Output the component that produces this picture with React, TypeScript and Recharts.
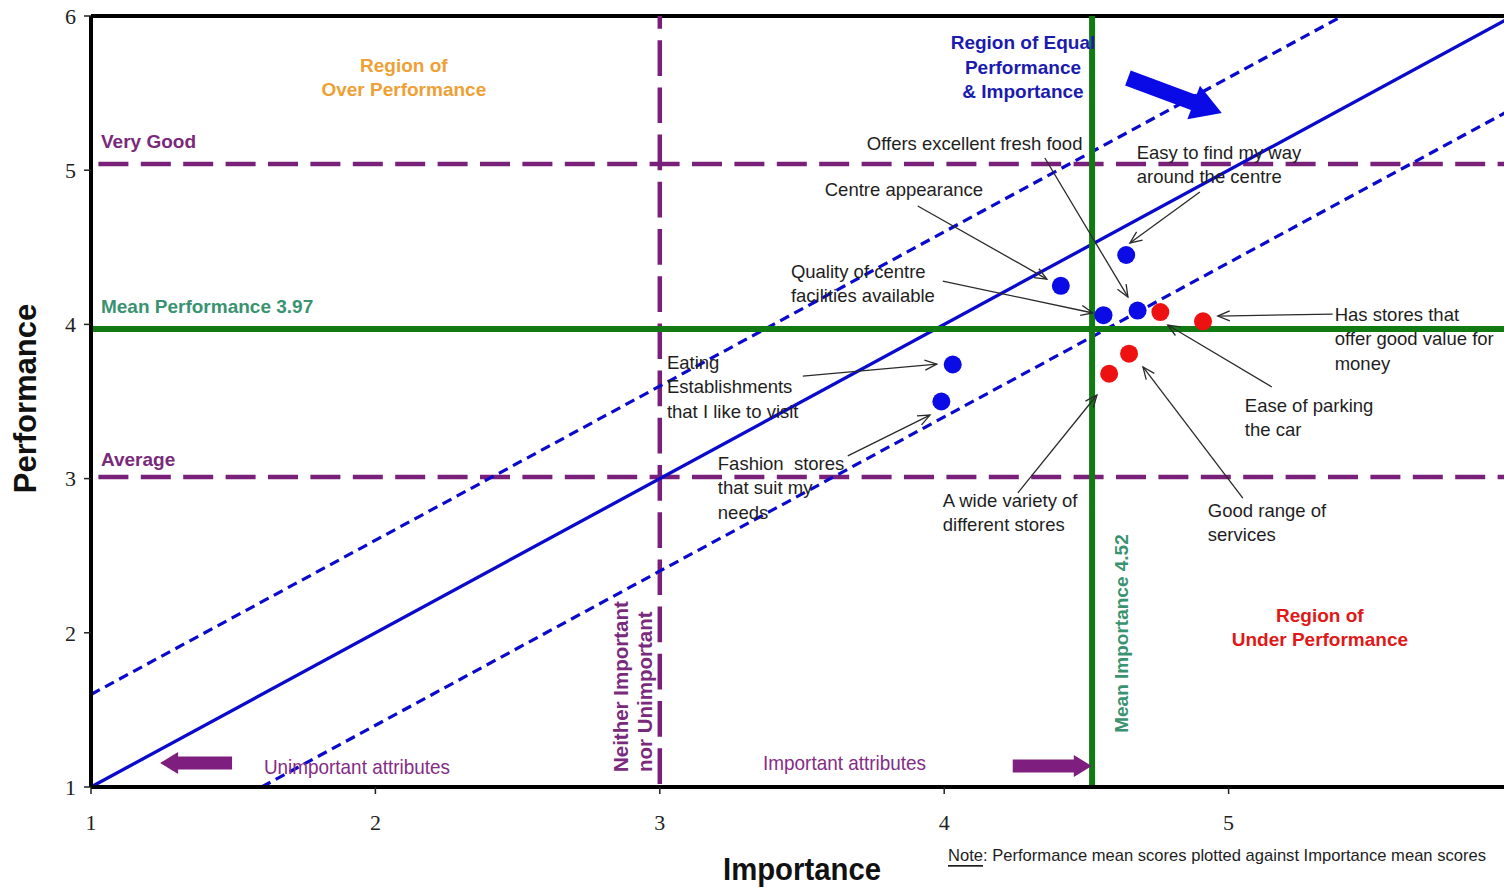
import React from 'react';
import { ScatterChart, Scatter, XAxis, YAxis, ReferenceLine, ReferenceDot, Label } from 'recharts';

// ---------- data ----------
const xTicks = [1, 2, 3, 4, 5];
const yTicks = [1, 2, 3, 4, 5, 6];

const blueNames = [
  'Centre appearance',
  'Easy to find my way around the centre',
  'Quality of centre facilities available',
  'Offers excellent fresh food',
  'Eating Establishments that I like to visit',
  'Fashion stores that suit my needs',
];
const blueImportance = [4.41, 4.64, 4.56, 4.68, 4.03, 3.99];
const bluePerformance = [4.25, 4.45, 4.06, 4.09, 3.74, 3.5];

const redNames = [
  'Ease of parking the car',
  'Has stores that offer good value for money',
  'Good range of services',
  'A wide variety of different stores',
];
const redImportance = [4.76, 4.91, 4.65, 4.58];
const redPerformance = [4.08, 4.02, 3.81, 3.68];

const meanImportance = 4.52;
const meanPerformance = 3.97;
const veryGoodLevel = 5.04;
const averageLevel = 3.01;
const neutralImportance = 3;
const bandOffset = 0.6;

// ---------- annotations (data coordinates) ----------
type Block = {
  x: number; y: number; lines: string[]; color?: string; anchor?: 'start' | 'middle' | 'end';
  bold?: boolean; size?: number; lh?: number; rotate?: boolean; fit?: number[];
};

const calloutTexts: Block[] = [
  { x: 3.728, y: 5.17, lines: ['Offers excellent fresh food'] },
  { x: 3.58, y: 4.872, lines: ['Centre appearance'] },
  { x: 3.461, y: 4.346, lines: ['Quality of centre', 'facilities available'] },
  { x: 4.677, y: 5.118, lines: ['Easy to find my way', 'around the centre'] },
  { x: 5.373, y: 4.067, lines: ['Has stores that', 'offer good value for', 'money'] },
  { x: 5.057, y: 3.477, lines: ['Ease of parking', 'the car'] },
  { x: 3.025, y: 3.756, lines: ['Eating', 'Establishments', 'that I like to visit'] },
  { x: 3.204, y: 3.101, lines: ['Fashion  stores', 'that suit my', 'needs'] },
  { x: 3.995, y: 2.861, lines: ['A wide variety of', 'different stores'] },
  { x: 4.927, y: 2.796, lines: ['Good range of', 'services'] },
];

const PURPLE = '#78207A';
const PURPLE_TXT = '#7A2A7C';
const GREEN = '#127A12';
const GREEN_TXT = '#3A9370';
const BLUE = '#0A0ACC';

const regionTexts: Block[] = [
  { x: 2.1, y: 5.682, lines: ['Region of', 'Over Performance'], color: '#EFA035', anchor: 'middle', bold: true, size: 19, lh: 24 },
  { x: 4.277, y: 5.825, lines: ['Region of Equal', 'Performance', '& Importance'], color: '#1B1BB0', anchor: 'middle', bold: true, size: 19, lh: 24.5 },
  { x: 5.321, y: 2.115, lines: ['Region of', 'Under Performance'], color: '#E01818', anchor: 'middle', bold: true, size: 19, lh: 24 },
  { x: 1.035, y: 5.189, lines: ['Very Good'], color: PURPLE_TXT, bold: true, size: 19 },
  { x: 1.035, y: 4.119, lines: ['Mean Performance 3.97'], color: GREEN_TXT, bold: true, size: 19 },
  { x: 1.035, y: 3.127, lines: ['Average'], color: PURPLE_TXT, bold: true, size: 19 },
  { x: 4.625, y: 1.9955, lines: ['Mean Importance 4.52'], color: GREEN_TXT, bold: true, size: 19, anchor: 'middle', rotate: true },
  { x: 2.863, y: 1.097, lines: ['Neither Important', 'nor Unimportant'], color: PURPLE_TXT, bold: true, size: 20.5, lh: 24, rotate: true },
  { x: 1.608, y: 1.13, lines: ['Unimportant attributes'], color: '#852C86', size: 21, fit: [186] },
  { x: 3.363, y: 1.156, lines: ['Important attributes'], color: '#852C86', size: 21, fit: [163] },
];

const leaders = [
  { from: [3.907, 4.768], to: [4.361, 4.294] },
  { from: [4.354, 5.079], to: [4.646, 4.178] },
  { from: [4.899, 4.859], to: [4.653, 4.528] },
  { from: [3.995, 4.281], to: [4.523, 4.074] },
  { from: [5.366, 4.067], to: [4.962, 4.054] },
  { from: [5.152, 3.594], to: [4.786, 3.996] },
  { from: [5.05, 2.874], to: [4.699, 3.724] },
  { from: [4.259, 2.907], to: [4.537, 3.542] },
  { from: [3.503, 3.665], to: [3.974, 3.743] },
  { from: [3.661, 3.147], to: [3.95, 3.412] },
];

const blockArrows = [
  { from: [4.646, 5.598], to: [4.976, 5.371], color: '#0A0AE6', w: 8, h: 18, hl: 30 },
  { from: [1.496, 1.156], to: [1.243, 1.156], color: '#7E1F80', w: 6.5, h: 11, hl: 18 },
  { from: [4.241, 1.136], to: [4.519, 1.136], color: '#7E1F80', w: 6.5, h: 11, hl: 18 },
];

// ---------- helpers ----------
const SANS = '"Liberation Sans", Arial, sans-serif';
const SERIF = '"Liberation Serif", "Times New Roman", serif';

const blueData = blueNames.map((name, i) => ({ name, importance: blueImportance[i], performance: bluePerformance[i] }));
const redData = redNames.map((name, i) => ({ name, importance: redImportance[i], performance: redPerformance[i] }));

const renderBlock = (b: Block) => (p: any) => {
  const { cx, cy } = p;
  if (cx == null || cy == null) return <g />;
  const size = b.size ?? 18.5;
  const lh = b.lh ?? 24.5;
  return (
    <g>
      {b.lines.map((t, i) => {
        const tx = b.rotate ? cx + i * lh : cx;
        const ty = b.rotate ? cy : cy + i * lh;
        const fit = b.fit ? b.fit[i] : undefined;
        return (
          <text
            key={i}
            x={tx}
            y={ty}
            transform={b.rotate ? `rotate(-90 ${tx} ${ty})` : undefined}
            textAnchor={b.anchor ?? 'start'}
            dominantBaseline="central"
            fontFamily={SANS}
            fontSize={size}
            fontWeight={b.bold ? 'bold' : 'normal'}
            fill={b.color ?? '#1E1E1E'}
            textLength={fit}
            lengthAdjust={fit ? 'spacingAndGlyphs' : undefined}
            style={{ whiteSpace: 'pre' }}
          >
            {t}
          </text>
        );
      })}
    </g>
  );
};

const leaderShape = (p: any) => {
  const { x1, y1, x2, y2 } = p;
  if ([x1, y1, x2, y2].some((v) => v == null || isNaN(v))) return <g />;
  const ang = Math.atan2(y2 - y1, x2 - x1);
  const L = 13;
  const a = 0.4;
  const ax = x2 - L * Math.cos(ang - a);
  const ay = y2 - L * Math.sin(ang - a);
  const bx = x2 - L * Math.cos(ang + a);
  const by = y2 - L * Math.sin(ang + a);
  return (
    <g>
      <line x1={x1} y1={y1} x2={x2} y2={y2} stroke="#2A2A2A" strokeWidth={1.3} />
      <polyline points={`${ax},${ay} ${x2},${y2} ${bx},${by}`} fill="none" stroke="#2A2A2A" strokeWidth={1.3} />
    </g>
  );
};

const arrowShape = (color: string, w: number, h: number, hl: number) => (p: any) => {
  const { x1, y1, x2, y2 } = p;
  if ([x1, y1, x2, y2].some((v) => v == null || isNaN(v))) return <g />;
  const dx = x2 - x1;
  const dy = y2 - y1;
  const len = Math.hypot(dx, dy);
  const ux = dx / len;
  const uy = dy / len;
  const nx = -uy;
  const ny = ux;
  const bx = x2 - ux * hl;
  const by = y2 - uy * hl;
  const pts = [
    [x1 + nx * w, y1 + ny * w],
    [bx + nx * w, by + ny * w],
    [bx + nx * h, by + ny * h],
    [x2, y2],
    [bx - nx * h, by - ny * h],
    [bx - nx * w, by - ny * w],
    [x1 - nx * w, y1 - ny * w],
  ];
  return <polygon points={pts.map((q) => q.join(',')).join(' ')} fill={color} />;
};

const dotShape = (color: string) => (p: any) => {
  if (p.cx == null || p.cy == null) return <g />;
  return <circle cx={p.cx} cy={p.cy} r={9} fill={color} />;
};

const xAxisTitle = (props: any) => {
  const vb = props.viewBox || { x: 91, y: 787, width: 1422, height: 101 };
  const cx = vb.x + vb.width / 2;
  return (
    <g>
      <text x={cx} y={vb.y + 82} textAnchor="middle" dominantBaseline="central" fontFamily={SANS} fontWeight="bold" fontSize={32} fill="#111" textLength={158} lengthAdjust="spacingAndGlyphs">
        Importance
      </text>
      <text x={vb.x + 857} y={vb.y + 68} dominantBaseline="central" fontFamily={SANS} fontSize={17} fill="#1E1E1E" textLength={538} lengthAdjust="spacingAndGlyphs">
        <tspan textDecoration="underline" style={{ textDecoration: 'underline' }}>Note</tspan>
        <tspan>: Performance mean scores plotted against Importance mean scores</tspan>
      </text>
    </g>
  );
};

const yAxisTitle = (props: any) => {
  const vb = props.viewBox || { x: 0, y: 16, width: 91, height: 771 };
  const cy = vb.y + vb.height / 2 - 3;
  const cx = 25;
  return (
    <text x={cx} y={cy} transform={`rotate(-90 ${cx} ${cy})`} textAnchor="middle" dominantBaseline="central" fontFamily={SANS} fontWeight="bold" fontSize={31} fill="#111">
      Performance
    </text>
  );
};

export default function App() {
  return (
    <div style={{ position: 'fixed', left: 0, top: 0, width: 1504, height: 888, overflow: 'hidden', background: '#fff' }}>
      <ScatterChart width={1513} height={888} margin={{ top: 16, right: 0, bottom: 0, left: 0 }}>
        <XAxis
          type="number"
          dataKey="importance"
          domain={[1, 6]}
          ticks={xTicks}
          height={101}
          tickSize={7}
          tickMargin={20}
          axisLine={{ stroke: '#000', strokeWidth: 4 }}
          tickLine={{ stroke: '#222', strokeWidth: 1.5 }}
          tick={{ fill: '#222', fontSize: 22, fontFamily: SERIF }}
        >
          <Label content={xAxisTitle} />
        </XAxis>
        <YAxis
          type="number"
          dataKey="performance"
          domain={[1, 6]}
          ticks={yTicks}
          width={91}
          tickSize={7}
          tickMargin={8}
          axisLine={{ stroke: '#000', strokeWidth: 4 }}
          tickLine={{ stroke: '#222', strokeWidth: 1.5 }}
          tick={{ fill: '#222', fontSize: 22, fontFamily: SERIF }}
        >
          <Label content={yAxisTitle} />
        </YAxis>

        {calloutTexts.concat(regionTexts).map((b, i) => (
          <ReferenceDot key={`t${i}`} x={b.x} y={b.y} r={0} shape={renderBlock(b)} />
        ))}

        <ReferenceLine y={6} stroke="#000" strokeWidth={4} />

        <ReferenceLine y={veryGoodLevel} stroke={PURPLE} strokeWidth={4.5} strokeDasharray="30 12.4" strokeDashoffset={35} />
        <ReferenceLine y={averageLevel} stroke={PURPLE} strokeWidth={4.5} strokeDasharray="30 12.4" strokeDashoffset={35} />
        <ReferenceLine
          segment={[{ x: neutralImportance, y: 6 }, { x: neutralImportance, y: 1 }]}
          stroke={PURPLE}
          strokeWidth={4.5}
          strokeDasharray="35.7 11.5"
          strokeDashoffset={23}
        />

        <ReferenceLine segment={[{ x: 1, y: 1 }, { x: 6, y: 6 }]} stroke={BLUE} strokeWidth={3.3} />
        <ReferenceLine segment={[{ x: 1, y: 1 + bandOffset }, { x: 6 - bandOffset, y: 6 }]} stroke={BLUE} strokeWidth={3.2} strokeDasharray="10 6" />
        <ReferenceLine segment={[{ x: 1 + bandOffset, y: 1 }, { x: 6, y: 6 - bandOffset }]} stroke={BLUE} strokeWidth={3.2} strokeDasharray="10 6" />

        <ReferenceLine y={meanPerformance} stroke={GREEN} strokeWidth={6} />
        <ReferenceLine x={meanImportance} stroke={GREEN} strokeWidth={6} />

        {leaders.map((l, i) => (
          <ReferenceLine key={`l${i}`} segment={[{ x: l.from[0], y: l.from[1] }, { x: l.to[0], y: l.to[1] }]} shape={leaderShape} />
        ))}
        {blockArrows.map((a, i) => (
          <ReferenceLine
            key={`a${i}`}
            segment={[{ x: a.from[0], y: a.from[1] }, { x: a.to[0], y: a.to[1] }]}
            shape={arrowShape(a.color, a.w, a.h, a.hl)}
          />
        ))}

        <Scatter name="Blue attributes" data={blueData} fill="#0B0BE6" shape={dotShape('#0B0BE6')} isAnimationActive={false} />
        <Scatter name="Red attributes" data={redData} fill="#EE1111" shape={dotShape('#EE1111')} isAnimationActive={false} />
      </ScatterChart>
    </div>
  );
}
